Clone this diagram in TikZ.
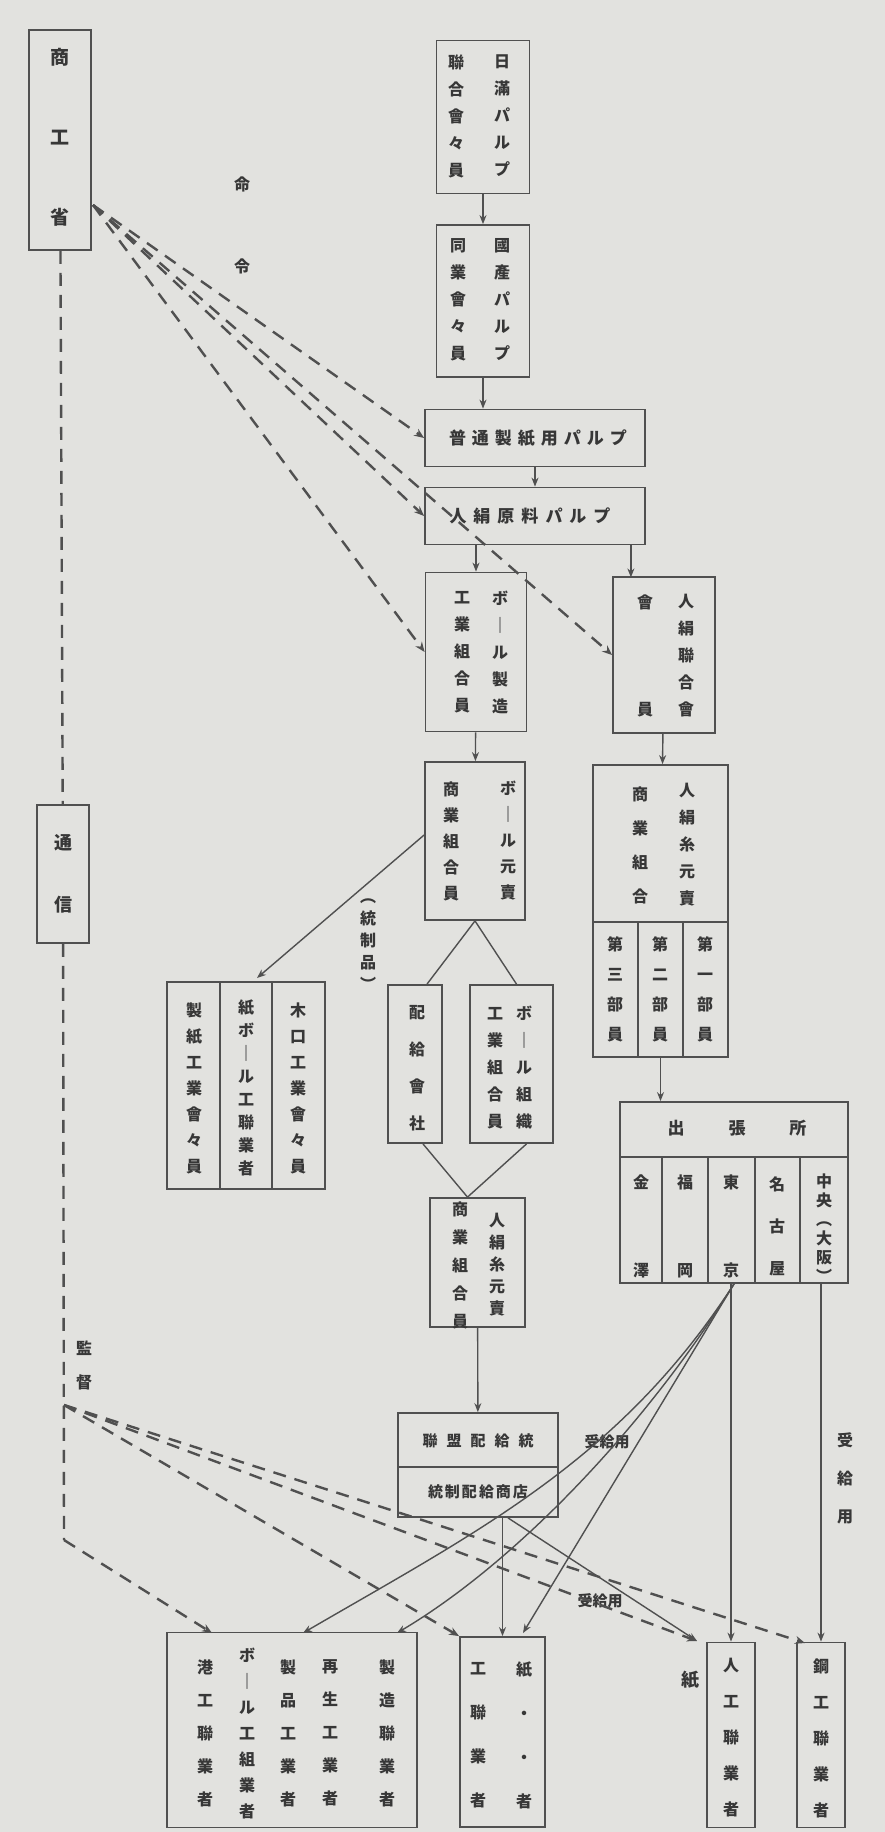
\documentclass[tikz,border=0pt]{standalone}
\usepackage{fontspec}
\newfontfamily\jp{Noto Sans CJK JP}
\usetikzlibrary{arrows.meta}
\definecolor{paper}{RGB}{226,226,223}
\definecolor{ink}{RGB}{80,80,80}
\definecolor{txt}{RGB}{55,55,55}
\newlength\jgap
\def\jspread#1{\ifx#1\relax\unskip\else#1\hskip\jgap\expandafter\jspread\fi}
\tikzset{
  box/.style={draw=ink, line width=1.8pt, inner sep=0pt},
  col/.style={text=txt, font=\jp\bfseries\fontsize{16}{#1}\selectfont, align=center, inner sep=0pt},
  col/.default=27,
  lbl/.style={text=txt, font=\jp\bfseries\fontsize{15}{20}\selectfont, inner sep=0pt},
  ln/.style={draw=ink, line width=1.4pt},
  arr/.style={ln, -{Stealth[length=9pt,width=7pt]}},
  dsh/.style={draw=ink, line width=2.4pt, dash pattern=on 13pt off 9pt},
  darr/.style={dsh, -{Stealth[length=10pt,width=8pt]}}
}

\begin{document}
\begin{tikzpicture}[x=1pt,y=-1pt]
\fill[paper] (0,0) rectangle (885,1832);

% Ministry side
\node[box, minimum width=62pt, minimum height=220pt] (sho) at (60,140) {};
\node[col, font=\jp\bfseries\fontsize{19}{80}\selectfont] (shot) at (60,137) {商\\工\\省};
\node[box, minimum width=52pt, minimum height=138pt] (tsu) at (63,874) {};
\node[col, font=\jp\bfseries\fontsize{18}{62}\selectfont] (tsut) at (63,874) {通\\信};
\node[col=82] (mei) at (242,225) {命\\令};
\node[col=34] (kan) at (84,1365) {監\\督};

% Upper chain
\node[box, minimum width=93pt, minimum height=153pt] (b1) at (483,117) {};
\node[col] (b1r) at (502,116) {日\\滿\\パ\\ル\\プ};
\node[col] (b1l) at (456,116) {聯\\合\\會\\々\\員};
\node[box, minimum width=93pt, minimum height=152pt] (b2) at (483,301) {};
\node[col] (b2r) at (502,300) {國\\產\\パ\\ル\\プ};
\node[col] (b2l) at (458,300) {同\\業\\會\\々\\員};
\node[box, minimum width=220pt, minimum height=57pt] (b3) at (535,438) {};
\node[lbl, font=\jp\bfseries\fontsize{17}{20}\selectfont] (b3t) at (538,438) {\setlength\jgap{6pt}\jspread 普通製紙用パルプ\relax};
\node[box, minimum width=220pt, minimum height=57pt] (b4) at (535,516) {};
\node[lbl, font=\jp\bfseries\fontsize{17}{20}\selectfont] (b4t) at (530,516) {\setlength\jgap{7pt}\jspread 人絹原料パルプ\relax};

% Makers and dealers
\node[box, minimum width=101pt, minimum height=159pt] (b5) at (476,652) {};
\node[col] (b5r) at (500,652) {ボ\\｜\\ル\\製\\造};
\node[col] (b5l) at (462,652) {工\\業\\組\\合\\員};
\node[box, minimum width=102pt, minimum height=156pt] (b6) at (664,655) {};
\node[col] (b6r) at (686,656) {人\\絹\\聯\\合\\會};
\node[col=107] (b6l) at (645,656) {會\\員};
\node[box, minimum width=100pt, minimum height=158pt] (b7) at (475,841) {};
\node[col=26] (b7r) at (508,841) {ボ\\｜\\ル\\元\\賣};
\node[col=26] (b7l) at (451,841) {商\\業\\組\\合\\員};
\node[col=22] (tos) at (368,945) {︵\\統\\制\\品\\︶};

% Rayon dealers
\node[box, minimum width=135pt, minimum height=292pt] (b8) at (660.5,911) {};
\draw[ln] (b8.west |- 0,922) -- (b8.east |- 0,922);
\draw[ln] (638,922) -- (638,1057);
\draw[ln] (683,922) -- (683,1057);
\node[col] (b8r) at (687,845) {人\\絹\\糸\\元\\賣};
\node[col=34] (b8l) at (640,845) {商\\業\\組\\合};
\node[col=30] (b8a) at (615,989) {第\\三\\部\\員};
\node[col=30] (b8b) at (660,989) {第\\二\\部\\員};
\node[col=30] (b8c) at (705,989) {第\\一\\部\\員};

% Branch offices
\node[box, minimum width=228pt, minimum height=181pt] (b9) at (734,1192.5) {};
\draw[ln] (b9.west |- 0,1157) -- (b9.east |- 0,1157);
\foreach \cx in {662,708,755,800} \draw[ln] (\cx,1157) -- (\cx,1283);
\node[lbl, font=\jp\bfseries\fontsize{17}{20}\selectfont] (b9h) at (737,1128) {\setlength\jgap{44pt}\jspread 出張所\relax};
\node[col=88] (b9a) at (641,1226) {金\\澤};
\node[col=88] (b9b) at (685,1226) {福\\岡};
\node[col=88] (b9c) at (731,1226) {東\\京};
\node[col=42] (b9d) at (777,1226) {名\\古\\屋};
\node[col=19] (b9e) at (824,1228) {中\\央\\︵\\大\\阪\\︶};

% Left group
\node[box, minimum width=158pt, minimum height=207pt] (bL) at (246,1085.5) {};
\draw[ln] (220,982) -- (220,1189);
\draw[ln] (272,982) -- (272,1189);
\node[col=26] (bLa) at (194,1088) {製\\紙\\工\\業\\會\\々\\員};
\node[col=23] (bLb) at (246,1088) {紙\\ボ\\｜\\ル\\工\\聯\\業\\者};
\node[col=26] (bLc) at (298,1088) {木\\口\\工\\業\\會\\々\\員};
\node[box, minimum width=54pt, minimum height=158pt] (bH) at (415,1064) {};
\node[col=37] (bHt) at (417,1068) {配\\給\\會\\社};
\node[box, minimum width=83pt, minimum height=158pt] (bK) at (511.5,1064) {};
\node[col=27] (bKr) at (524,1068) {ボ\\｜\\ル\\組\\織};
\node[col=27] (bKl) at (495,1068) {工\\業\\組\\合\\員};
\node[box, minimum width=95pt, minimum height=129pt] (bS) at (477.5,1262.5) {};
\node[col=22] (bSr) at (497,1265) {人\\絹\\糸\\元\\賣};
\node[col=28] (bSl) at (460,1265) {商\\業\\組\\合\\員};

% Distribution office
\node[box, minimum width=160pt, minimum height=104pt] (bD) at (478,1465) {};
\draw[ln] (bD.west |- 0,1467) -- (bD.east |- 0,1467);
\node[lbl] (bDa) at (478,1441) {\setlength\jgap{9pt}\jspread 聯盟配給統\relax};
\node[lbl] (bDb) at (478,1492) {\setlength\jgap{2pt}\jspread 統制配給商店\relax};
\node[lbl] (ju1) at (607,1442) {受給用};
\node[lbl] (ju2) at (600,1601) {受給用};
\node[col=38] (ju3) at (845,1478) {受\\給\\用};

% Bottom row
\node[box, minimum width=250pt, minimum height=195pt] (bB1) at (292,1730) {};
\node[col=33] (bB1a) at (205,1733) {港\\工\\聯\\業\\者};
\node[col=26] (bB1b) at (247,1733) {ボ\\｜\\ル\\工\\組\\業\\者};
\node[col=33] (bB1c) at (288,1733) {製\\品\\工\\業\\者};
\node[col=33] (bB1d) at (330,1733) {再\\生\\工\\業\\者};
\node[col=33] (bB1e) at (387,1733) {製\\造\\聯\\業\\者};
\node[box, minimum width=85pt, minimum height=190pt] (bB2) at (502.5,1732) {};
\node[col=44] (bB2l) at (478,1735) {工\\聯\\業\\者};
\node[col=44] (bB2r) at (524,1735) {紙\\・\\・\\者};
\node[box, minimum width=48pt, minimum height=185pt] (bB3) at (731,1735) {};
\node[col=36] (bB3t) at (731,1738) {人\\工\\聯\\業\\者};
\node[lbl, font=\jp\bfseries\fontsize{18}{20}\selectfont] (shi) at (690,1680) {紙};
\node[box, minimum width=48pt, minimum height=185pt] (bB4) at (821,1735) {};
\node[col=36] (bB4t) at (821,1738) {鋼\\工\\聯\\業\\者};

% Free ends
\coordinate (shoE) at (93,205);
\coordinate (bra) at (64,1405);
\coordinate (bend) at (64,1540);
\coordinate (inA) at (212,1633);
\coordinate (inB) at (303,1633);
\coordinate (inC) at (397,1633);
\coordinate (inD) at (523,1633);
\coordinate (inE) at (697,1641);
\coordinate (inF) at (805,1643);
\coordinate (inL) at (257,978);

% Solid flow
\draw[arr] (b1) -- (b2);
\draw[arr] (b2.south) -- (b2.south |- b3.north);
\draw[arr] (b3) -- (b4);
\draw[arr] (b5.north |- b4.south) -- (b5.north);
\draw[arr] ([xshift=-15pt]b4.south east) -- ++(0,32);
\draw[arr] (b5) -- (b7);
\draw[arr] (b6) -- (b8);
\draw[arr] (b8.south) -- (b8.south |- b9.north);
\draw[arr] ([yshift=6pt]b7.west) -- (inL);
\draw[ln] (b7.south) -- ([xshift=12pt]bH.north);
\draw[ln] (b7.south) -- ([xshift=5pt]bK.north);
\draw[ln] ([xshift=8pt]bH.south) -- ([xshift=-10pt]bS.north);
\draw[ln] ([xshift=15pt]bK.south) -- ([xshift=-10pt]bS.north);
\draw[arr] (bS) -- (bD);
\draw[arr] (bD.south -| bB2.north) -- (bB2.north);
\draw[arr] ([xshift=30pt]bD.south) -- (inE);
\draw[arr] (b9.south) .. controls (620,1460) and (480,1530) .. (inB);
\draw[arr] (b9.south) .. controls (650,1420) and (520,1560) .. (inC);
\draw[arr] (b9.south) -- (inD);
\draw[arr] (bB3.north |- b9.south) -- (bB3.north);
\draw[arr] (bB4.north |- b9.south) -- (bB4.north);

% Orders and supervision
\draw[darr] (shoE) -- (b3.west);
\draw[darr] (shoE) -- (b4.west);
\draw[darr] (shoE) -- (b5.west);
\draw[darr] (shoE) -- (b6.west);
\draw[dsh] (sho) -- (tsu);
\draw[dsh] (tsu) -- (bend);
\draw[darr] (bend) -- (inA);
\draw[darr] (bra) -- (bB2.north west);
\draw[darr] (bra) -- (inE);
\draw[darr] (bra) -- (inF);
\end{tikzpicture}
\end{document}
